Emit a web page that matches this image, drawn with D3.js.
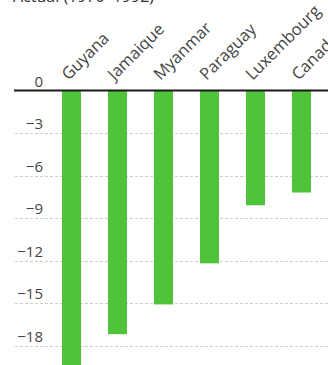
<!DOCTYPE html>
<html>
<head>
<meta charset="utf-8">
<script src="https://cdn.jsdelivr.net/npm/d3@7"></script>
<style>
  html, body { margin: 0; padding: 0; background: #fff; }
  svg { display: block; }
  text { font-family: "Open Sans", "Noto Sans", sans-serif; }
</style>
</head>
<body>
<script>
// Change, 1970–1992
const countries = ["Guyana", "Jamaique", "Myanmar", "Paraguay", "Luxembourg", "Canada"];
const values = [-20.5, -17.2, -15.1, -12.2, -8.1, -7.2];
const tickValues = [0, -3, -6, -9, -12, -15, -18];
const tickLabels = ["0", "\u22123", "\u22126", "\u22129", "\u221212", "\u221215", "\u221218"];
const title = "Actual (1970\u20131992)";

const W = 328, H = 365;
const svg = d3.select("body").append("svg").attr("width", W).attr("height", H);

const y = d3.scaleLinear().domain([0, -18]).range([90.5, 345.5]);
const x = d3.scaleBand().domain(countries)
  .range([48.5, 48.5 + 46 * countries.length])
  .paddingInner(0.587).paddingOuter(0.2935);

// title, running off the top edge
svg.append("text").attr("x", 13).attr("y", 2)
  .attr("font-size", 16).attr("fill", "#333").text(title);

// dashed gridlines
svg.append("g").selectAll("line").data(tickValues.filter(d => d !== 0)).join("line")
  .attr("x1", 15).attr("x2", W)
  .attr("y1", d => Math.round(y(d)) + 0.5).attr("y2", d => Math.round(y(d)) + 0.5)
  .attr("stroke", "#cfcfc0").attr("stroke-width", 1).attr("stroke-dasharray", "3,2");

// value axis labels, sitting above their gridlines
const axis = d3.axisLeft(y).tickValues(tickValues)
  .tickFormat((d, i) => tickLabels[i]).tickSize(0).tickPadding(0);
const ag = svg.append("g").attr("transform", "translate(43,0)").call(axis);
ag.select(".domain").remove();
ag.selectAll("text").attr("font-size", 15).attr("fill", "#444")
  .attr("font-family", "'Open Sans', sans-serif")
  .attr("dy", "-0.3em");

// bars
svg.append("g").selectAll("rect").data(countries).join("rect")
  .attr("x", d => x(d))
  .attr("width", x.bandwidth())
  .attr("y", y(0))
  .attr("height", (d, i) => y(values[i]) - y(0))
  .attr("fill", "#4fc43a");

// zero baseline
svg.append("line").attr("x1", 14).attr("x2", W)
  .attr("y1", y(0)).attr("y2", y(0))
  .attr("stroke", "#1a1a1a").attr("stroke-width", 2);

// slanted country names
svg.append("g").selectAll("text").data(countries).join("text")
  .attr("transform", d => `translate(${x(d) + x.bandwidth() / 2 - 3},81) rotate(-45)`)
  .attr("font-size", 16.5).attr("fill", "#444")
  .text(d => d);
</script>
</body>
</html>
